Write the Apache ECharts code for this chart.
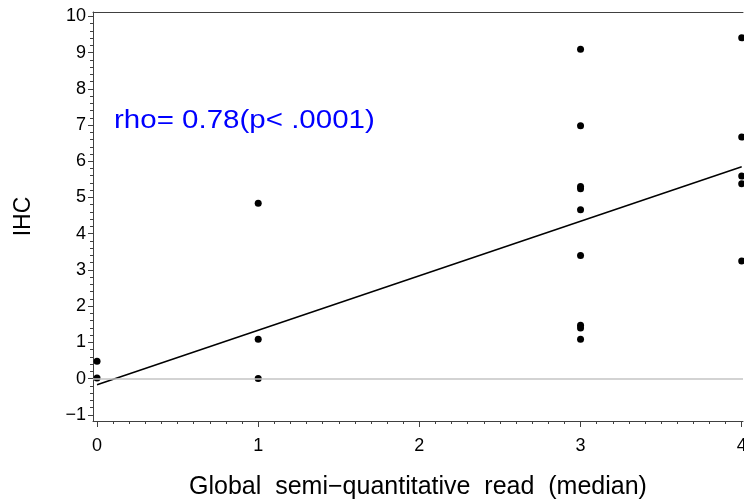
<!DOCTYPE html>
<html>
<head>
<meta charset="utf-8">
<script src="https://cdn.jsdelivr.net/npm/echarts@6/dist/echarts.min.js"></script>
<style>
  html, body { margin: 0; padding: 0; background: #fff; }
  #chart { width: 744px; height: 501px; }
</style>
</head>
<body>
<div id="chart"></div>
<script>
// tick labels
const xTicks = [0, 1, 2, 3, 4]
const yTicks = [-1, 0, 1, 2, 3, 4, 5, 6, 7, 8, 9, 10]

// points
const pointX = [0, 0, 1, 1, 1, 3, 3, 3, 3, 3, 3, 3, 3, 3, 4, 4, 4, 4, 4]
const pointY = [0.48, 0.02, 4.84, 1.09, 0.0, 9.09, 6.98, 5.30, 5.24, 4.66, 3.40, 1.47, 1.40, 1.09, 9.41, 6.67, 5.59, 5.38, 3.25]

// fitted line ends
const fitX = [0, 4]
const fitY = [-0.17, 5.85]

const rhoText = 'rho= 0.78(p< .0001)'

const FONT = '"Liberation Sans", Arial, sans-serif'
const AXIS_COLOR = '#404040'

const xMin = -0.025, xMax = 4.008
const yMin = -1.17, yMax = 10.12

function steps(from, to, step) {
  const out = []
  for (let v = from; v <= to + 1e-9; v += step) out.push(Math.round(v * 100) / 100)
  return out
}
const xMinor = steps(0, 4, 0.1)
const yMinor = steps(-1, 10, 0.2)

const minus = v => String(v).replace('-', '\u2212')

const chart = echarts.init(document.getElementById('chart'), null, { renderer: 'canvas' })

const option = {
  animation: false,
  grid: { left: 93, right: 1, top: 12, bottom: 80, containLabel: false, outerBoundsMode: 'none' },
  graphic: [{
    type: 'text',
    x: 114,
    y: 109,
    scaleX: 1.18,
    style: {
      text: rhoText,
      font: '25px ' + FONT,
      fill: '#0000ff',
      textVerticalAlign: 'top'
    }
  }],
  xAxis: [{
    type: 'value',
    min: xMin,
    max: xMax,
    position: 'bottom',
    name: 'Global  semi\u2212quantitative  read  (median)',
    nameLocation: 'middle',
    nameGap: 54,
    nameTextStyle: { fontFamily: FONT, fontSize: 25, color: '#000' },
    axisLine: { onZero: false, lineStyle: { color: AXIS_COLOR, width: 1 } },
    axisTick: { customValues: xTicks, length: 6, lineStyle: { color: AXIS_COLOR } },
    axisLabel: { customValues: xTicks, margin: 16, fontFamily: FONT, fontSize: 18, color: '#000', formatter: minus },
    splitLine: { show: false }
  }, {
    type: 'value',
    min: xMin,
    max: xMax,
    position: 'bottom',
    axisLine: { show: false, onZero: false },
    axisTick: { customValues: xMinor, length: 3, lineStyle: { color: AXIS_COLOR } },
    axisLabel: { show: false },
    splitLine: { show: false }
  }, {
    type: 'value',
    min: xMin,
    max: xMax,
    position: 'top',
    axisLine: { onZero: false, lineStyle: { color: AXIS_COLOR, width: 1 } },
    axisTick: { show: false },
    axisLabel: { show: false },
    splitLine: { show: false }
  }],
  yAxis: [{
    type: 'value',
    min: yMin,
    max: yMax,
    position: 'left',
    name: 'IHC',
    nameLocation: 'middle',
    nameGap: 58,
    nameTextStyle: { fontFamily: FONT, fontSize: 23, color: '#000' },
    axisLine: { show: true, onZero: false, lineStyle: { color: AXIS_COLOR, width: 1 } },
    axisTick: { show: true, customValues: yTicks, length: 5, lineStyle: { color: AXIS_COLOR } },
    axisLabel: { customValues: yTicks, margin: 7, fontFamily: FONT, fontSize: 18, color: '#000', formatter: minus },
    splitLine: { show: false }
  }, {
    type: 'value',
    min: yMin,
    max: yMax,
    position: 'left',
    axisLine: { show: false, onZero: false },
    axisTick: { show: true, customValues: yMinor, length: 3, lineStyle: { color: AXIS_COLOR } },
    axisLabel: { show: false },
    splitLine: { show: false }
  }],
  series: [{
    type: 'line',
    data: fitX.map((x, i) => [x, fitY[i]]),
    showSymbol: false,
    symbol: 'none',
    lineStyle: { color: '#000', width: 1.5 },
    z: 2,
    silent: true,
    markLine: {
      silent: true,
      symbol: ['none', 'none'],
      label: { show: false },
      lineStyle: { color: '#c4c4c4', type: 'solid', width: 1.5 },
      data: [{ yAxis: 0 }]
    }
  }, {
    type: 'scatter',
    data: pointX.map((x, i) => [x, pointY[i]]),
    symbol: 'circle',
    symbolSize: 7,
    itemStyle: { color: '#000', opacity: 1 },
    z: 3
  }]
}

chart.setOption(option)
</script>
</body>
</html>
